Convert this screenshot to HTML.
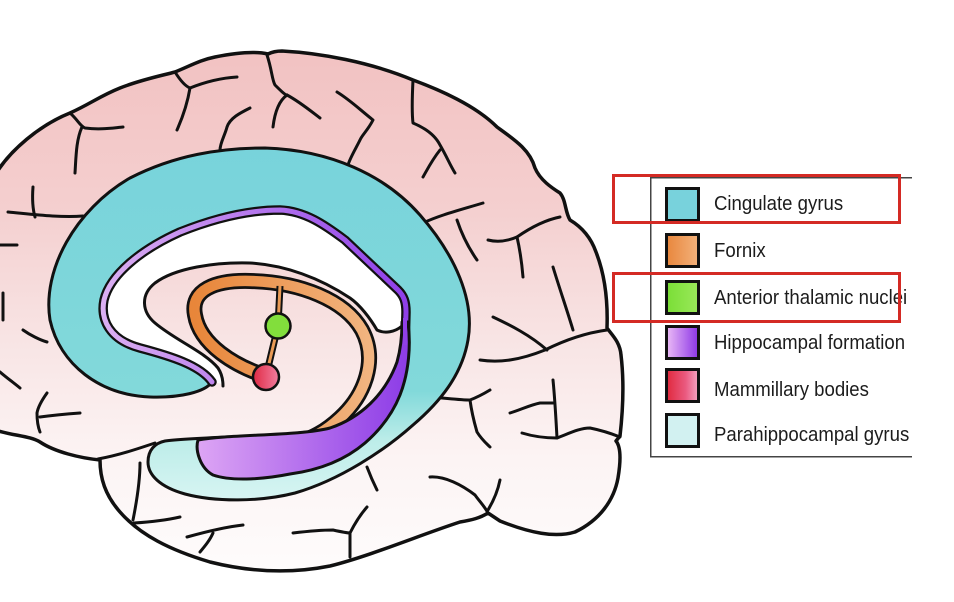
<!DOCTYPE html>
<html><head><meta charset="utf-8"><style>
html,body{margin:0;padding:0;background:#fff;}
svg{display:block;}
</style></head><body>
<svg width="954" height="602" viewBox="0 0 954 602" xmlns="http://www.w3.org/2000/svg">
<defs>
<linearGradient id="brainG" x1="0" y1="50" x2="0" y2="575" gradientUnits="userSpaceOnUse">
<stop offset="0" stop-color="#f2c2c2"/>
<stop offset="0.3" stop-color="#f4cfcf"/>
<stop offset="0.55" stop-color="#f8e4e4"/>
<stop offset="0.78" stop-color="#fcf4f4"/>
<stop offset="1" stop-color="#fefcfc"/>
</linearGradient>
<linearGradient id="tealG" x1="0" y1="145" x2="0" y2="502" gradientUnits="userSpaceOnUse">
<stop offset="0" stop-color="#78d3db"/>
<stop offset="0.69" stop-color="#82d9da"/>
<stop offset="0.83" stop-color="#bdede9"/>
<stop offset="1" stop-color="#d8f5f3"/>
</linearGradient>
<linearGradient id="purpG" x1="200" y1="0" x2="412" y2="0" gradientUnits="userSpaceOnUse">
<stop offset="0" stop-color="#dca4f4"/>
<stop offset="1" stop-color="#8b3ae6"/>
</linearGradient>
<linearGradient id="purpLine" x1="100" y1="0" x2="410" y2="0" gradientUnits="userSpaceOnUse">
<stop offset="0" stop-color="#dcb0f2"/>
<stop offset="1" stop-color="#8e3ee8"/>
</linearGradient>
<linearGradient id="fornG" x1="195" y1="0" x2="375" y2="0" gradientUnits="userSpaceOnUse">
<stop offset="0" stop-color="#e8863a"/>
<stop offset="1" stop-color="#f2b682"/>
</linearGradient>
<linearGradient id="redG" x1="253" y1="0" x2="279" y2="0" gradientUnits="userSpaceOnUse">
<stop offset="0" stop-color="#e02a44"/>
<stop offset="1" stop-color="#f27ea0"/>
</linearGradient>
<linearGradient id="swF" x1="0" y1="0" x2="1" y2="0">
<stop offset="0" stop-color="#e8863c"/><stop offset="1" stop-color="#f3b27c"/>
</linearGradient>
<linearGradient id="swA" x1="0" y1="0" x2="1" y2="0">
<stop offset="0" stop-color="#7ade36"/><stop offset="1" stop-color="#9ae85a"/>
</linearGradient>
<linearGradient id="swH" x1="0" y1="0" x2="1" y2="0">
<stop offset="0" stop-color="#ecbcf6"/><stop offset="1" stop-color="#8a34e6"/>
</linearGradient>
<linearGradient id="swM" x1="0" y1="0" x2="1" y2="0">
<stop offset="0" stop-color="#e0283c"/><stop offset="0.6" stop-color="#ea5a80"/><stop offset="1" stop-color="#f6a6c4"/>
</linearGradient>
<clipPath id="legClip"><rect x="0" y="0" width="912" height="602"/></clipPath>
</defs>

<!-- Brain outline -->
<path d="M -5,175 C 10,150 40,125 70,113 C 90,104 100,96 120,88 C 140,80 160,76 175,72 C 190,66 200,60 215,57 C 235,53 255,51 268,54 C 272,52 276,51 282,51 C 320,53 370,62 413,80 C 440,90 475,105 497,127 C 515,140 530,150 535,168 C 540,180 552,188 560,193 C 566,200 565,212 570,220 C 580,226 590,235 596,252 C 605,275 608,300 607,328 C 612,335 620,342 621,355 C 624,380 623,410 620,436 L 616,441 C 621,447 621,460 618,478 C 614,500 600,520 575,532 C 555,538 530,533 500,521 L 488,513 C 480,518 472,520 460,522 C 420,535 370,556 330,566 C 290,574 250,572 210,562 C 170,550 140,535 120,512 C 105,495 100,478 100,460 C 80,458 55,452 40,442 C 30,436 15,436 -5,430 Z" fill="url(#brainG)" stroke="#111" stroke-width="3.5" stroke-linejoin="round"/>

<!-- Sulci -->
<g fill="none" stroke="#111" stroke-width="3" stroke-linecap="round" stroke-linejoin="round">
<path d="M 70,113 C 78,120 80,126 85,128 C 100,130 112,128 123,127"/>
<path d="M 82,127 C 76,140 76,158 75,173"/>
<path d="M 33,187 C 32,200 33,210 35,217"/>
<path d="M 8,212 C 30,214 60,218 83,216"/>
<path d="M 0,245 L 17,245"/>
<path d="M 175,72 C 180,80 185,86 190,88 C 205,82 220,78 237,77"/>
<path d="M 190,88 C 188,100 185,112 177,130"/>
<path d="M 250,108 C 240,113 230,118 227,127 C 225,135 220,143 220,150"/>
<path d="M 267,55 C 272,70 272,80 275,85 C 280,90 285,95 287,95 C 300,102 312,112 320,118"/>
<path d="M 287,95 C 280,100 275,110 273,127"/>
<path d="M 337,92 C 350,100 358,108 373,120 C 368,130 362,135 360,140 C 355,150 350,158 348,165"/>
<path d="M 413,80 C 412,100 412,115 413,123 C 425,128 435,135 440,145 C 447,157 450,165 455,173"/>
<path d="M 440,150 C 432,160 427,170 423,177"/>
<path d="M 423,223 C 440,215 460,210 483,203"/>
<path d="M 457,220 C 462,235 470,250 477,260"/>
<path d="M 488,240 C 500,243 510,240 517,237 C 530,228 545,220 560,217"/>
<path d="M 517,237 C 520,250 522,265 523,277"/>
<path d="M 553,267 C 560,290 567,310 573,330"/>
<path d="M 493,317 C 510,325 530,335 547,350"/>
<path d="M 480,360 C 500,363 520,360 545,350 C 565,340 585,333 607,330"/>
<path d="M 430,397 C 445,398 460,400 470,400 C 478,397 485,393 490,390"/>
<path d="M 470,400 C 472,415 475,425 477,432 C 482,440 487,444 490,447"/>
<path d="M 510,413 C 520,410 530,405 540,403 L 553,403"/>
<path d="M 553,380 C 555,400 556,420 557,438"/>
<path d="M 522,433 C 535,437 548,438 557,438 C 570,433 580,428 590,428 C 600,430 610,433 620,437"/>
<path d="M 430,477 C 445,476 462,485 475,495 C 480,502 485,507 488,513"/>
<path d="M 500,480 C 498,490 494,500 488,510"/>
<path d="M 23,330 C 30,335 40,340 47,342"/>
<path d="M 3,293 L 3,320"/>
<path d="M 0,372 C 7,378 14,383 20,388"/>
<path d="M 47,393 C 42,400 38,407 37,413 C 37,420 38,427 40,432"/>
<path d="M 40,417 C 55,415 67,414 80,413"/>
<path d="M 140,463 C 140,480 137,500 133,520"/>
<path d="M 134,523 C 150,522 167,520 180,517"/>
<path d="M 187,537 C 205,532 225,527 243,525"/>
<path d="M 213,533 C 210,540 205,546 200,552"/>
<path d="M 293,533 C 310,531 325,530 333,530 C 342,532 347,533 350,533 C 355,523 360,515 367,507"/>
<path d="M 350,533 L 350,557"/>
<path d="M 367,467 C 370,475 373,482 377,490"/>
<path d="M 98,459 C 120,455 140,448 155,443"/>
</g>

<!-- Cingulate + parahippocampal -->
<path d="M 212,382 C 205,392 180,398 150,397 C 100,395 60,365 50,320 C 42,270 75,210 130,178 C 175,155 220,148 265,148 C 330,150 385,175 420,215 C 455,255 475,300 468,340 C 462,375 440,402 413,425 C 385,450 340,480 295,493 C 260,502 215,502 185,494 C 160,487 148,475 148,462 C 148,450 155,443 165,441 C 200,436 300,437 330,428 C 370,416 400,385 405,345 L 406,312 C 406,302 404,296 398,290 L 345,240 C 325,225 305,211 280,210 C 250,210 215,218 180,232 C 140,250 110,275 104,300 C 100,320 110,340 140,348 C 170,356 200,365 212,382 Z" fill="url(#tealG)" stroke="#111" stroke-width="3" stroke-linejoin="round"/>

<!-- White corpus callosum region -->
<path d="M 212,382 C 200,365 170,356 140,348 C 110,340 100,320 104,300 C 110,275 140,250 180,232 C 215,218 250,210 280,210 C 305,211 325,225 345,240 L 398,290 C 404,296 406,302 406,312 L 403,326 C 395,332 385,334 377,330 C 370,318 360,305 350,298 C 320,278 285,265 250,263 C 215,262 175,268 155,283 C 140,295 142,312 155,323 C 175,340 205,352 218,368 C 222,374 223,380 223,384 Z" fill="#ffffff"/>
<path d="M 223,386 C 223,380 222,374 218,368 C 205,352 175,340 155,323 C 142,312 140,295 155,283 C 175,268 215,262 250,263 C 285,265 320,278 350,298 C 360,305 370,318 377,330 C 385,334 395,332 402,326" fill="none" stroke="#111" stroke-width="3" stroke-linecap="round"/>

<!-- Fornix -->
<path d="M 266,376 C 235,366 200,345 195,315 C 190,290 215,280 250,281 C 300,282 345,300 362,330 C 378,360 365,395 340,418 C 325,432 312,438 300,442" fill="none" stroke="#111" stroke-width="16" stroke-linecap="round"/>
<path d="M 266,376 C 235,366 200,345 195,315 C 190,290 215,280 250,281 C 300,282 345,300 362,330 C 378,360 365,395 340,418 C 325,432 312,438 300,442" fill="none" stroke="url(#fornG)" stroke-width="10.5" stroke-linecap="round"/>
<path d="M 280,286 L 278,326 L 266,376" fill="none" stroke="#111" stroke-width="7"/>
<path d="M 280,286 L 278,326 L 266,376" fill="none" stroke="#e99a55" stroke-width="3"/>

<!-- Hippocampal thin line -->
<path d="M 212,382 C 200,365 170,356 140,348 C 110,340 100,320 104,300 C 110,275 140,250 180,232 C 215,218 250,210 280,210 C 305,211 325,225 345,240 L 398,290 C 404,296 406,302 406,312 L 405,350" fill="none" stroke="#111" stroke-width="9.5" stroke-linecap="round" stroke-linejoin="round"/>
<path d="M 212,382 C 200,365 170,356 140,348 C 110,340 100,320 104,300 C 110,275 140,250 180,232 C 215,218 250,210 280,210 C 305,211 325,225 345,240 L 398,290 C 404,296 406,302 406,312 L 405,350" fill="none" stroke="url(#purpLine)" stroke-width="5" stroke-linecap="round" stroke-linejoin="round"/>

<!-- Hippocampal body -->
<path d="M 408,322 C 411,345 409,372 400,395 C 392,415 380,430 365,443 C 345,460 320,470 290,474 C 260,480 230,481 213,475 C 200,468 195,450 198,440 C 230,434 300,436 330,428 C 360,418 385,395 397,362 C 401,348 402,334 402,322 Z" fill="url(#purpG)" stroke="#111" stroke-width="3" stroke-linejoin="round"/>
<path d="M 405,318 L 405,345" stroke="#9040e8" stroke-width="4" fill="none"/>

<!-- Anterior thalamic nuclei & mammillary body -->
<circle cx="278" cy="326" r="12.5" fill="#82de3c" stroke="#111" stroke-width="2.5"/>
<circle cx="266" cy="377" r="13" fill="url(#redG)" stroke="#111" stroke-width="2.5"/>

<!-- Legend -->
<g clip-path="url(#legClip)">
<rect x="650.75" y="177.75" width="320" height="279" fill="#fff" stroke="#444" stroke-width="1.5"/>
<g stroke="#111" stroke-width="3">
<rect x="666.5" y="188.5" width="32" height="32" fill="#78d2dc"/>
<rect x="666.5" y="234.5" width="32" height="32" fill="url(#swF)"/>
<rect x="666.5" y="281.5" width="32" height="32" fill="url(#swA)"/>
<rect x="666.5" y="326.5" width="32" height="32" fill="url(#swH)"/>
<rect x="666.5" y="369.5" width="32" height="32" fill="url(#swM)"/>
<rect x="666.5" y="414.5" width="32" height="32" fill="#d2f1f1"/>
</g>
<g transform="translate(714,0) scale(0.93,1)" font-family="'Liberation Sans', Arial, sans-serif" font-size="20" fill="#1c1c1c">
<text x="0" y="210">Cingulate gyrus</text>
<text x="0" y="257">Fornix</text>
<text x="0" y="304">Anterior thalamic nuclei</text>
<text x="0" y="349">Hippocampal formation</text>
<text x="0" y="396">Mammillary bodies</text>
<text x="0" y="441">Parahippocampal gyrus</text>
</g>
</g>
<rect x="613.5" y="175.5" width="286" height="47" fill="none" stroke="#d42a24" stroke-width="3"/>
<rect x="613.5" y="273.5" width="286" height="48" fill="none" stroke="#d42a24" stroke-width="3"/>
</svg>
</body></html>
